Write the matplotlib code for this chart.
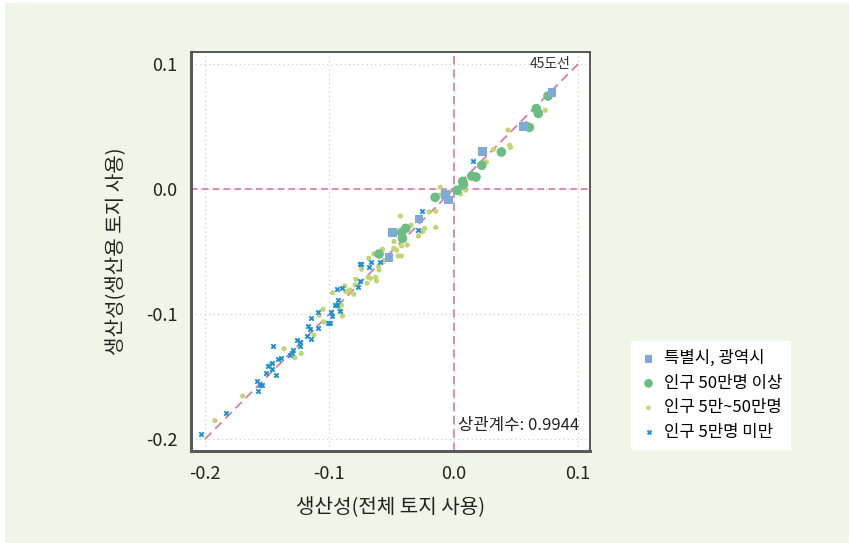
import numpy as np
import matplotlib.pyplot as plt
from matplotlib.patches import Rectangle

plt.rcParams['font.family'] = ['Noto Sans CJK KR', 'DejaVu Sans']
plt.rcParams['axes.unicode_minus'] = False

# 특별시, 광역시
metro_x = [0.079, 0.056, 0.023, -0.0067, -0.0043, -0.028, -0.049, -0.052]
metro_y = [0.077, 0.050, 0.030, -0.0042, -0.0088, -0.024, -0.035, -0.055]

# 인구 50만명 이상
large_x = [0.0758, 0.0664, 0.068, 0.0608, 0.0383, 0.0225, 0.0145, 0.0179,
           0.0072, 0.0078, 0.0027, -0.015, -0.042, -0.0386, -0.0412, -0.060]
large_y = [0.0744, 0.0643, 0.0605, 0.0493, 0.0296, 0.019, 0.0104, 0.0096,
           0.0061, 0.0037, -0.001, -0.0067, -0.0347, -0.0315, -0.0395, -0.052]

# 인구 5만~50만명
mid_x = [0.0736, 0.0584, 0.0436, 0.0321, 0.039, 0.045, 0.0457, 0.0262,
         -0.0107, 0.0096, 0.0056, -0.0107, -0.0428, -0.0198, -0.0145, -0.0145,
         -0.0233, -0.0246, -0.0284, -0.0251, -0.0343, -0.0367, -0.048, -0.046,
         -0.042, -0.0375, -0.0447, -0.042, -0.0482, -0.0573, -0.0568, -0.0643,
         -0.0683, -0.0605, -0.06, -0.0627, -0.0621, -0.0669, -0.0688, -0.0696,
         -0.0741, -0.0787, -0.0793, -0.0803, -0.0835, -0.0841, -0.0867, -0.0876,
         -0.0974, -0.105, -0.0916, -0.0902, -0.0894, -0.1082, -0.1044, -0.1124,
         -0.1226, -0.1277, -0.1365, -0.148, -0.1697, -0.192]
mid_y = [0.063, 0.0526, 0.0472, 0.0318, 0.0312, 0.035, 0.0333, 0.0216,
         0.0014, -0.0008, -0.004, -0.0048, -0.0216, -0.0184, -0.0178, -0.0307,
         -0.0315, -0.0333, -0.0376, -0.0342, -0.029, -0.0307, -0.042, -0.0488,
         -0.0454, -0.0448, -0.0536, -0.0536, -0.0474, -0.0482, -0.0582, -0.052,
         -0.0554, -0.0621, -0.0648, -0.0706, -0.0734, -0.0714, -0.0706, -0.0754,
         -0.0642, -0.0722, -0.0768, -0.0842, -0.0808, -0.0814, -0.0822, -0.0776,
         -0.083, -0.0962, -0.0968, -0.0928, -0.1016, -0.101, -0.1064, -0.1168,
         -0.1315, -0.135, -0.1278, -0.1408, -0.1656, -0.1853]

# 인구 5만명 미만
small_x = [-0.2032, -0.1834, -0.1574, -0.156, -0.1545, -0.1585, -0.1508, -0.143,
           -0.1465, -0.1497, -0.146, -0.1414, -0.139, -0.1452, -0.132, -0.130,
           -0.1293, -0.1264, -0.1234, -0.1237, -0.1183, -0.1151, -0.1175, -0.1157,
           -0.109, -0.1151, -0.109, -0.101, -0.0998, -0.098, -0.099, -0.0956,
           -0.0942, -0.0934, -0.0918, -0.0937, -0.090, -0.0766, -0.0755, -0.0744,
           -0.0667, -0.0683, -0.0589, -0.0755, -0.0284, -0.0254, 0.0158]
small_y = [-0.1962, -0.179, -0.1616, -0.157, -0.157, -0.1536, -0.1475, -0.1485,
           -0.144, -0.1416, -0.1394, -0.136, -0.1352, -0.1256, -0.1328, -0.1314,
           -0.1288, -0.1206, -0.1224, -0.1258, -0.1174, -0.12, -0.1098, -0.112,
           -0.1114, -0.103, -0.0984, -0.1074, -0.1074, -0.1016, -0.098, -0.093,
           -0.093, -0.0888, -0.0978, -0.0802, -0.0794, -0.0786, -0.0734, -0.0602,
           -0.0582, -0.0626, -0.0582, -0.0602, -0.0328, -0.0176, 0.0224]

ticks = [-0.2, -0.1, 0.0, 0.1]
corr = 0.9944

bg = '#eff5e7'
pink = '#d77aa7'

fig = plt.figure(figsize=(8.49, 5.43), dpi=100, facecolor='white')
# light green panel behind everything, leaving a thin white edge top and left
panel = Rectangle((5 / 849, -0.5), 2, 1.5 - 3 / 543, transform=fig.transFigure,
                  facecolor=bg, edgecolor='none', zorder=-10)
fig.patches.append(panel)

ax = fig.add_axes([0.225, 0.1694, 0.470, 0.7348])
ax.set_facecolor('white')

ax.grid(True, color='#cfcfcf', linestyle=(0, (1, 2.5)), linewidth=0.9)
ax.set_axisbelow(True)

ax.axhline(0, color=pink, linestyle=(0, (4, 2.5)), linewidth=1.2, zorder=1)
ax.axvline(0, color=pink, linestyle=(0, (5, 3)), linewidth=1.2, zorder=1)
ax.plot([-0.2, 0.1], [-0.2, 0.1], color=pink, linestyle=(0, (5, 3)), linewidth=1.3, zorder=1)

ax.scatter(mid_x, mid_y, s=14, color='#bfd673', edgecolors='none', zorder=3,
           label='인구 5만~50만명')
ax.scatter(small_x, small_y, s=10, marker='x', color='#1b8fd8', linewidths=1.4, zorder=4,
           label='인구 5만명 미만')
ax.scatter(large_x, large_y, s=48, color='#6bbd83', edgecolors='none', zorder=5,
           label='인구 50만명 이상')
ax.scatter(metro_x, metro_y, s=40, marker='s', color='#7eaad6', edgecolors='none', zorder=6,
           label='특별시, 광역시')

ax.set_xlim(-0.2112, 0.1096)
ax.set_ylim(-0.2096, 0.1096)
ax.set_xticks(ticks)
ax.set_yticks(ticks)
ax.set_xticklabels([f'{t:.1f}' for t in ticks])
ax.set_yticklabels([f'{t:.1f}' for t in ticks])
ax.tick_params(length=0, labelsize=13, colors='#222222', pad=10)

for side in ['left', 'bottom']:
    ax.spines[side].set_linewidth(2.2)
    ax.spines[side].set_color('#5a5a5a')
for side in ['top', 'right']:
    ax.spines[side].set_linewidth(1.3)
    ax.spines[side].set_color('#4a4a4a')

ax.set_xlabel('생산성(전체 토지 사용)', fontsize=14.5, color='#222222', labelpad=10)
ax.set_ylabel('생산성(생산용 토지 사용)', fontsize=14.5, color='#222222', labelpad=13)

ax.text(0.094, 0.1, '45도선', fontsize=10, color='#333333', ha='right', va='center')
ax.text(0.101, -0.1895, f'상관계수: {corr}', fontsize=12, color='#222222',
        ha='right', va='center')

handles, labels = ax.get_legend_handles_labels()
order = [3, 2, 0, 1]
leg = fig.legend([handles[i] for i in order], [labels[i] for i in order],
                 loc='upper left', bbox_to_anchor=(631 / 849, 1 - 341 / 543),
                 frameon=True, fontsize=12, handletextpad=0.4, labelspacing=0.45,
                 borderpad=0.55, borderaxespad=0, handlelength=1.0, fancybox=False,
                 markerscale=0.9)
leg.get_frame().set_edgecolor('none')
leg.get_frame().set_facecolor('white')
leg.get_frame().set_alpha(1)

fig.savefig('out.png', dpi=100, facecolor=fig.get_facecolor())
